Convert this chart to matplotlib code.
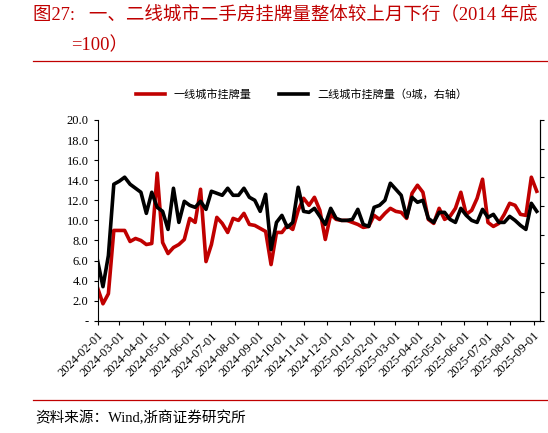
import numpy as np
import pandas as pd
import matplotlib
matplotlib.use("Agg")
import matplotlib.pyplot as plt
import matplotlib.dates as mdates

plt.rcParams['font.family'] = ['Liberation Serif', 'Noto Sans CJK SC']

# weekly listing index (2014 year end = 100)
tier1 = [3.3, 1.7, 2.7, 9.0, 9.0, 9.0, 7.9, 8.2, 8.0, 7.6, 7.7, 14.7, 7.8, 6.7, 7.3, 7.6,
         8.1, 10.2, 9.8, 13.1, 5.9, 7.6, 10.3, 9.7, 8.8, 10.2, 10.0, 10.7, 9.6, 9.5, 9.2,
         8.9, 5.6, 8.8, 8.8, 9.5, 9.1, 11.0, 12.2,
         11.5, 12.3, 11.0, 8.1, 10.6, 10.1, 10.0, 10.0, 9.8, 9.6, 9.3, 9.4, 10.5, 10.1,
         10.7, 11.2, 10.9, 10.8, 10.2, 12.7, 13.5, 12.8, 10.1, 9.7, 11.2, 10.1, 10.4, 11.2,
         12.8, 10.6, 11.0, 12.2, 14.1, 9.8, 9.4, 9.7, 10.6, 11.7, 11.5, 10.6, 10.5, 14.3, 12.9]
tier2 = [6.0, 3.4, 6.5, 13.6, 13.9, 14.3, 13.6, 13.2, 12.8, 10.7, 12.8, 11.3, 10.9, 9.1,
         13.2, 9.8, 11.9, 11.5, 11.3, 11.9, 11.1, 12.9, 12.7, 12.5, 13.2, 12.5, 12.5, 13.2,
         12.3, 12.0, 10.9, 12.6, 7.1, 9.8, 10.5, 9.3, 9.8, 13.3, 10.9,
         10.8, 11.2, 10.4, 9.6, 11.2, 10.2, 10.0, 10.0, 10.1, 11.1, 9.6, 9.4, 11.3, 11.5,
         12.0, 13.7, 13.1, 12.5, 10.3, 12.3, 11.8, 12.0, 10.2, 9.8, 10.8, 10.8, 10.1, 9.8,
         11.2, 10.5, 10.0, 9.8, 11.1, 10.3, 10.6, 9.8, 9.8, 10.4, 10.0, 9.5, 9.1, 11.7, 10.9]
dates = pd.date_range("2024-02-01", "2025-09-05", periods=len(tier1))
month_ticks = pd.date_range("2024-02-01", "2025-09-01", freq="MS")

fig = plt.figure(figsize=(5.48, 4.33), dpi=100)
ax = fig.add_axes([0.178, 0.259, 0.807, 0.464])
ax2 = ax.twinx()

red = "#c00000"
ax.plot(dates, tier1, color=red, lw=2.6, label="一线城市挂牌量", zorder=2)
ax2.plot(dates, tier2, color="black", lw=2.6, label="二线城市挂牌量（9城，右轴）", zorder=3)

ax.set_ylim(0, 20)
ax.set_yticks(np.arange(0, 21, 2))
ax.set_yticklabels(["-"] + [f"{v:.1f}" for v in np.arange(2, 21, 2)], fontsize=9)
ax2.set_ylim(0, 20)
ax2.set_yticks(np.linspace(0, 20, 8))
ax2.set_yticklabels([])
ax.set_xlim(pd.Timestamp("2024-02-01"), pd.Timestamp("2025-09-09"))
ax.set_xticks(month_ticks)
ax.xaxis.set_major_formatter(mdates.DateFormatter("%Y-%m-%d"))
plt.setp(ax.get_xticklabels(), rotation=45, ha="right", rotation_mode="anchor", fontsize=9)
for a in (ax, ax2):
    a.spines["top"].set_visible(False)
    a.tick_params(direction="out", length=3)
ax2.spines["left"].set_visible(False)

h1, l1 = ax.get_legend_handles_labels()
h2, l2 = ax2.get_legend_handles_labels()
fig.legend(h1 + h2, l1 + l2, loc="center", bbox_to_anchor=(0.55, 0.782), ncol=2,
           frameon=False, fontsize=8, handlelength=2.6, columnspacing=2.5)

fig.text(0.06, 0.965, "图27:   一、二线城市二手房挂牌量整体较上月下行（2014 年底", color=red,
         fontsize=13.3, va="center")
fig.text(0.13, 0.895, "=100）", color=red, fontsize=13.3, va="center")
fig.add_artist(plt.Line2D([0.06, 1.0], [0.858, 0.858], color=red, lw=0.9))
fig.add_artist(plt.Line2D([0.06, 1.0], [0.077, 0.077], color=red, lw=0.9))
fig.text(0.065, 0.035, "资料来源：Wind,浙商证券研究所", fontsize=10.5, va="center")

fig.savefig("out.png", dpi=100)
